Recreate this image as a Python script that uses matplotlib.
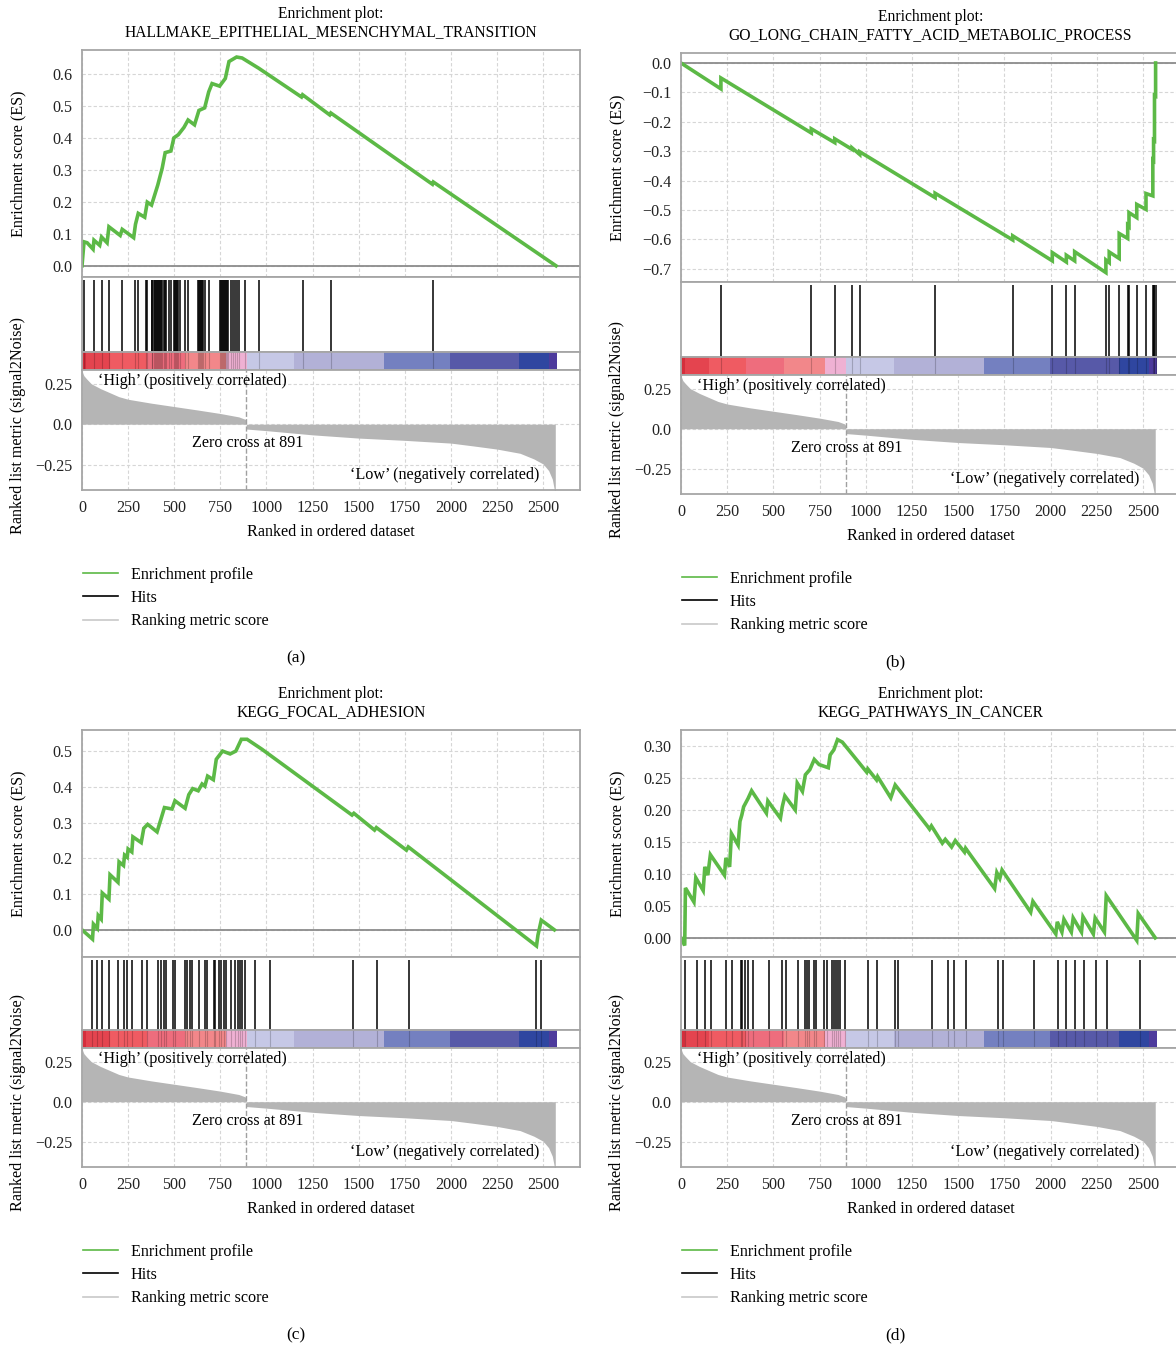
import matplotlib
matplotlib.use('Agg')
import matplotlib.pyplot as plt
from matplotlib.lines import Line2D

plt.rcParams['font.family'] = ['Liberation Serif', 'DejaVu Serif']
plt.rcParams['font.size'] = 11.6

# shared ranked list (signal2Noise)
rank_x = [0, 10, 25, 50, 100, 150, 200, 250, 375, 500, 625, 750, 850, 885, 891, 891,
          1000, 1250, 1500, 1750, 2000, 2125, 2250, 2375, 2450, 2500, 2530, 2550, 2560, 2566]
rank_y = [0.33, 0.30, 0.28, 0.25, 0.22, 0.195, 0.17, 0.154, 0.13, 0.109, 0.088, 0.066, 0.045, 0.03, 0.02, -0.03,
          -0.04, -0.066, -0.086, -0.10, -0.117, -0.135, -0.154, -0.18, -0.215, -0.246, -0.287, -0.34, -0.40, -0.45]
zero_cross = 891

# colour strip segments
cbar_edges = [0, 20, 150, 350, 560, 780, 895, 1150, 1640, 1995, 2370, 2530, 2575]
cbar_colors = ['#d42e3c', '#e4444f', '#ef5b62', '#ee6d7d', '#f2878a', '#efb1d3',
               '#c6c8e6', '#b2b1d7', '#7480c0', '#5759a8', '#2f46a0', '#4d3a9c']

xticks = [0, 250, 500, 750, 1000, 1250, 1500, 1750, 2000, 2250, 2500]
rank_ticks = [-0.25, 0.0, 0.25]
rank_labels = ['\u22120.25', '0.0', '0.25']

# (a)
title_a = 'HALLMAKE_EPITHELIAL_MESENCHYMAL_TRANSITION'
es_a_x = [0, 11, 28, 60, 65, 96, 106, 136, 146, 207, 218, 280, 290, 305, 340, 354, 377, 411, 435,
          451, 482, 498, 522, 553, 575, 610, 634, 665, 687, 705, 746, 777, 797, 838, 868, 958,
          1190, 1196, 1343, 1349, 1900, 1905, 2570]
es_a_y = [0.0, 0.075, 0.072, 0.052, 0.080, 0.064, 0.090, 0.072, 0.122, 0.095, 0.114, 0.088, 0.130,
          0.164, 0.152, 0.199, 0.190, 0.253, 0.306, 0.354, 0.359, 0.400, 0.410, 0.433, 0.456, 0.441,
          0.486, 0.494, 0.544, 0.570, 0.562, 0.586, 0.639, 0.653, 0.650, 0.618, 0.528, 0.535, 0.472,
          0.478, 0.255, 0.262, 0.0]
hits_a = [11, 65, 106, 146, 218, 290, 305, 345, 354, 377, 382, 388, 394, 400, 406, 412, 418, 424,
          430, 436, 443, 450, 456, 471, 485, 498, 504, 510, 516, 522, 534, 557, 575, 630, 635, 640,
          645, 650, 655, 669, 687, 750, 755, 760, 765, 770, 776, 782, 788, 794, 810, 817, 828, 841,
          850, 882, 958, 1196, 1349, 1905]
es_a_ticks = [0.0, 0.1, 0.2, 0.3, 0.4, 0.5, 0.6]
es_a_labels = ['0.0', '0.1', '0.2', '0.3', '0.4', '0.5', '0.6']

# (b)
title_b = 'GO_LONG_CHAIN_FATTY_ACID_METABOLIC_PROCESS'
es_b_x = [0, 216, 216, 705, 705, 832, 832, 926, 926, 967, 967, 1375, 1375, 1795, 1795, 2009, 2009,
          2085, 2085, 2130, 2130, 2299, 2299, 2317, 2317, 2371, 2371, 2417, 2417, 2424, 2424, 2466,
          2466, 2516, 2516, 2553, 2553, 2557, 2557, 2562, 2562, 2568, 2568]
es_b_y = [0.0, -0.088, -0.051, -0.238, -0.224, -0.271, -0.258, -0.294, -0.289, -0.311, -0.302,
          -0.458, -0.443, -0.602, -0.588, -0.673, -0.645, -0.677, -0.654, -0.673, -0.642, -0.713,
          -0.670, -0.679, -0.643, -0.665, -0.580, -0.597, -0.552, -0.556, -0.509, -0.526, -0.481,
          -0.498, -0.444, -0.452, -0.330, -0.332, -0.262, -0.264, -0.110, -0.112, 0.0]
hits_b = [216, 705, 832, 926, 967, 1375, 1795, 2009, 2085, 2130, 2299, 2317, 2371, 2417, 2424,
          2466, 2516, 2553, 2557, 2562, 2568]
es_b_ticks = [-0.7, -0.6, -0.5, -0.4, -0.3, -0.2, -0.1, 0.0]
es_b_labels = ['\u22120.7', '\u22120.6', '\u22120.5', '\u22120.4', '\u22120.3', '\u22120.2', '\u22120.1', '0.0']

# (c)
title_c = 'KEGG_FOCAL_ADHESION'
es_c_x = [0, 57, 62, 83, 88, 104, 110, 146, 152, 195, 201, 225, 231, 245, 250, 270, 276, 321, 335,
          356, 407, 447, 488, 504, 559, 579, 600, 630, 651, 666, 681, 712, 728, 762, 803, 834, 864,
          895, 976, 1464, 1474, 1586, 1596, 1759, 1769, 2464, 2472, 2490, 2561]
es_c_y = [0.0, -0.026, 0.016, 0.004, 0.040, 0.030, 0.103, 0.086, 0.154, 0.133, 0.190, 0.180, 0.209,
          0.203, 0.226, 0.218, 0.260, 0.244, 0.284, 0.295, 0.274, 0.342, 0.338, 0.361, 0.340, 0.378,
          0.395, 0.389, 0.408, 0.402, 0.430, 0.420, 0.477, 0.500, 0.492, 0.500, 0.533, 0.533, 0.505,
          0.321, 0.326, 0.279, 0.286, 0.223, 0.232, -0.045, -0.015, 0.027, 0.0]
hits_c = [56, 83, 106, 146, 197, 227, 245, 272, 326, 350, 413, 431, 444, 456, 492, 503, 557, 570,
          583, 597, 633, 666, 678, 714, 723, 741, 756, 768, 781, 810, 828, 846, 859, 868, 882, 940,
          1017, 1468, 1598, 1775, 2464, 2491]
es_c_ticks = [0.0, 0.1, 0.2, 0.3, 0.4, 0.5]
es_c_labels = ['0.0', '0.1', '0.2', '0.3', '0.4', '0.5']

# (d)
title_d = 'KEGG_PATHWAYS_IN_CANCER'
es_d_x = [0, 20, 24, 70, 80, 120, 129, 145, 159, 235, 243, 263, 273, 309, 319, 329, 339, 363, 382,
          462, 470, 538, 548, 562, 618, 629, 657, 673, 697, 721, 747, 797, 807, 827, 847, 873, 1005,
          1011, 1058, 1064, 1135, 1159, 1335, 1345, 1355, 1414, 1430, 1464, 1484, 1534, 1540, 1697,
          1709, 1725, 1737, 1892, 1904, 2028, 2036, 2061, 2072, 2112, 2122, 2167, 2175, 2231, 2241,
          2291, 2301, 2466, 2474, 2566]
es_d_y = [0.0, -0.012, 0.078, 0.056, 0.094, 0.074, 0.111, 0.098, 0.130, 0.098, 0.125, 0.111, 0.163,
          0.145, 0.182, 0.192, 0.205, 0.218, 0.230, 0.195, 0.214, 0.187, 0.205, 0.222, 0.200, 0.242,
          0.229, 0.255, 0.263, 0.279, 0.271, 0.266, 0.286, 0.294, 0.310, 0.306, 0.259, 0.264, 0.247,
          0.252, 0.219, 0.239, 0.174, 0.170, 0.175, 0.148, 0.154, 0.142, 0.152, 0.134, 0.140, 0.077,
          0.102, 0.093, 0.106, 0.040, 0.057, 0.006, 0.025, 0.009, 0.029, 0.009, 0.031, 0.009, 0.033,
          0.006, 0.031, 0.009, 0.066, -0.004, 0.038, 0.0]
hits_d = [24, 89, 132, 165, 246, 277, 324, 332, 346, 364, 391, 476, 545, 567, 632, 672, 681, 694,
          717, 730, 772, 790, 817, 826, 839, 850, 861, 886, 1011, 1062, 1158, 1174, 1360, 1442, 1478,
          1542, 1714, 1741, 1908, 2040, 2085, 2130, 2181, 2248, 2306, 2484]
es_d_ticks = [0.0, 0.05, 0.10, 0.15, 0.20, 0.25, 0.30]
es_d_labels = ['0.00', '0.05', '0.10', '0.15', '0.20', '0.25', '0.30']

W, H = 1176, 1346
GREEN = '#5cb946'
SPINE = '#a6a6a6'
GRID = '#d6d6d6'
FS = 11.6


def box(l, t, r, b):
    return [l / W, 1 - b / H, (r - l) / W, (b - t) / H]


def style(ax):
    for s in ax.spines.values():
        s.set_color(SPINE)
        s.set_linewidth(1.3)
    ax.tick_params(length=0, pad=7, labelsize=FS, colors='#222222')


def draw_panel(fig, geo, title, es_x, es_y, es_lim, yt, ytl, hits, letter):
    left, right, t_es, t_hit, t_cb, t_rank, bottom = geo
    cx = (left + right) / 2

    ax = fig.add_axes(box(left, t_es, right, t_hit))
    style(ax)
    ax.set_axisbelow(True)
    ax.grid(True, color=GRID, ls=(0, (3, 2)), lw=0.8)
    ax.axhline(0, color='#8c8c8c', lw=1.3)
    ax.plot(es_x, es_y, color=GREEN, lw=2.6, solid_joinstyle='miter')
    ax.set_xlim(0, 2700)
    ax.set_ylim(*es_lim)
    ax.set_xticks(xticks)
    ax.set_xticklabels([])
    ax.set_yticks(yt, labels=ytl)

    axh = fig.add_axes(box(left, t_hit, right, t_cb))
    style(axh)
    axh.vlines(hits, 0, 0.96, color='black', lw=1.1)
    axh.set_xlim(0, 2700)
    axh.set_ylim(0, 1)
    axh.set_xticks([])
    axh.set_yticks([])

    axc = fig.add_axes(box(left, t_cb, right, t_rank))
    style(axc)
    widths = [b - a for a, b in zip(cbar_edges[:-1], cbar_edges[1:])]
    axc.bar(cbar_edges[:-1], 1, width=widths, align='edge', color=cbar_colors, lw=0)
    axc.vlines(hits, 0, 1, color='black', lw=0.8, alpha=0.2)
    axc.set_xlim(0, 2700)
    axc.set_ylim(0, 1)
    axc.set_xticks([])
    axc.set_yticks([])

    axr = fig.add_axes(box(left, t_rank, right, bottom))
    style(axr)
    axr.set_axisbelow(True)
    axr.grid(True, color=GRID, ls=(0, (3, 2)), lw=0.8)
    axr.fill_between(rank_x, rank_y, 0, color='#b5b5b5', lw=0)
    axr.axvline(zero_cross, color='#a0a0a0', ls='--', lw=1.0)
    axr.set_xlim(0, 2700)
    axr.set_ylim(-0.407, 0.335)
    axr.set_xticks(xticks)
    axr.set_yticks(rank_ticks, labels=rank_labels)
    axr.text(85, 0.265, '\u2018High\u2019 (positively correlated)', ha='left', va='center')
    axr.text(zero_cross + 5, -0.118, 'Zero cross at %d' % zero_cross, ha='center', va='center')
    axr.text(2482, -0.315, '\u2018Low\u2019 (negatively correlated)', ha='right', va='center')

    fig.text(cx / W, 1 - (t_es - 36) / H, 'Enrichment plot:', ha='center', va='center', fontsize=11.2)
    fig.text(cx / W, 1 - (t_es - 18) / H, title, ha='center', va='center', fontsize=11.2)

    fig.text((left - 64) / W, 1 - (t_es + t_hit) / 2 / H, 'Enrichment score (ES)',
             rotation=90, ha='center', va='center')
    fig.text((left - 64) / W, 1 - ((t_rank + bottom) / 2 - 5) / H,
             'Ranked list metric (signal2Noise)', rotation=90, ha='center', va='center')
    fig.text(cx / W, 1 - (bottom + 42) / H, 'Ranked in ordered dataset', ha='center', va='center')

    handles = [Line2D([], [], color=GREEN, lw=1.2),
               Line2D([], [], color='black', lw=1.2),
               Line2D([], [], color='#c8c8c8', lw=1.2)]
    fig.legend(handles, ['Enrichment profile', 'Hits', 'Ranking metric score'],
               loc='upper left', bbox_to_anchor=((left + 1) / W, 1 - (bottom + 77) / H),
               frameon=False, borderpad=0, borderaxespad=0, handlelength=2.2,
               handletextpad=0.75, labelspacing=0.44, fontsize=FS)

    fig.text((cx - 35) / W, 1 - (bottom + 168) / H, letter, ha='center', va='center', fontsize=12.5)


def main():
    fig = plt.figure(figsize=(W / 100, H / 100), dpi=100)
    # left, right, es top, hits top, strip top, rank top, rank bottom (pixels)
    geo_a = (82, 580, 50, 277, 352, 370, 490)
    geo_b = (681, 1180, 53, 282, 357, 375, 494)
    geo_c = (82, 580, 730, 957, 1030, 1048, 1167)
    geo_d = (681, 1180, 730, 957, 1030, 1048, 1167)
    draw_panel(fig, geo_a, title_a, es_a_x, es_a_y, (-0.035, 0.675), es_a_ticks, es_a_labels, hits_a, '(a)')
    draw_panel(fig, geo_b, title_b, es_b_x, es_b_y, (-0.745, 0.034), es_b_ticks, es_b_labels, hits_b, '(b)')
    draw_panel(fig, geo_c, title_c, es_c_x, es_c_y, (-0.076, 0.559), es_c_ticks, es_c_labels, hits_c, '(c)')
    draw_panel(fig, geo_d, title_d, es_d_x, es_d_y, (-0.030, 0.325), es_d_ticks, es_d_labels, hits_d, '(d)')
    fig.savefig('out.png', dpi=100)


if __name__ == '__main__':
    main()
